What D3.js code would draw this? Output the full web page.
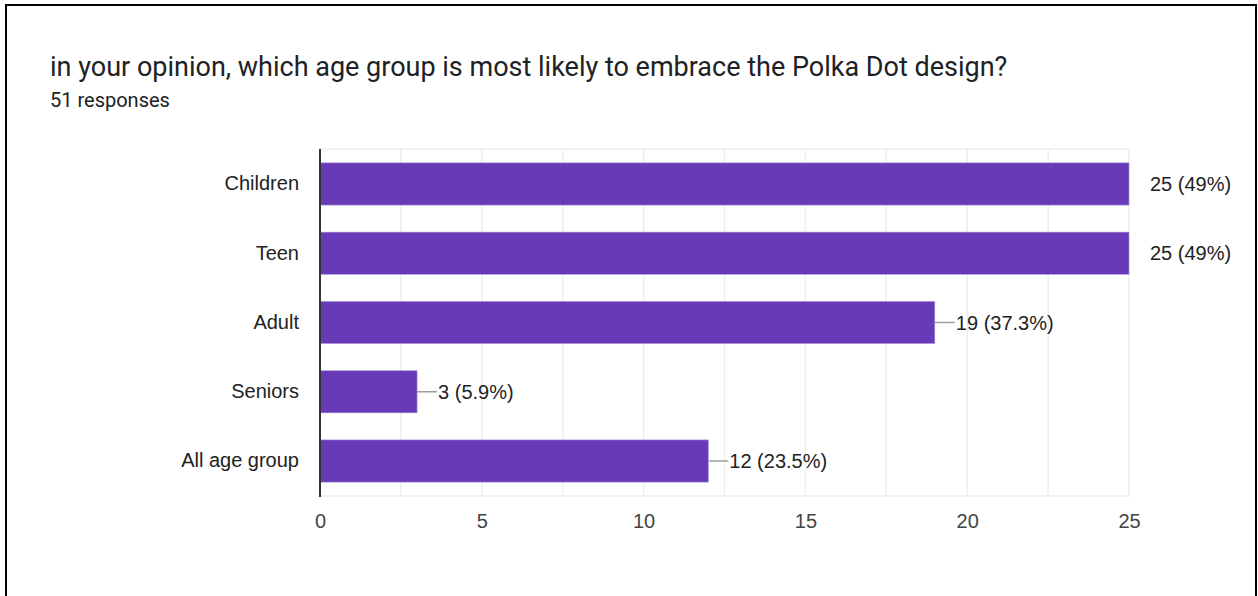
<!DOCTYPE html>
<html>
<head>
<meta charset="utf-8">
<script src="https://cdn.jsdelivr.net/npm/d3@7"></script>
<style>
  body { margin: 0; background: #fff; }
  svg { display: block; font-family: Roboto, Arial, sans-serif; }
</style>
</head>
<body>
<svg id="chart"></svg>
<script>
const width = 1258;
const height = 596;

const categories = ["Children", "Teen", "Adult", "Seniors", "All age group"];
const counts = [25, 25, 19, 3, 12];
const percents = ["49%", "49%", "37.3%", "5.9%", "23.5%"];
const xTicks = [0, 5, 10, 15, 20, 25];
const gridValues = d3.range(0, 25.1, 2.5);

const title = "in your opinion, which age group is most likely to embrace the Polka Dot design?";
const subtitle = "51 responses";

const labelFont = "'Liberation Sans', Arial, sans-serif";
const margin = { left: 320, right: 129, top: 149, bottom: 100 };

const svg = d3.select("#chart")
    .attr("width", width)
    .attr("height", height);

// card frame
svg.append("rect")
    .attr("x", 6).attr("y", 5)
    .attr("width", 1250).attr("height", 620)
    .attr("fill", "none")
    .attr("stroke", "#000")
    .attr("stroke-width", 2);

svg.append("text")
    .attr("x", 50).attr("y", 76)
    .attr("font-size", 27)
    .attr("fill", "#202124")
    .text(title);

svg.append("text")
    .attr("x", 50).attr("y", 107)
    .attr("font-size", 20)
    .attr("fill", "#202124")
    .text(subtitle);

const x = d3.scaleLinear()
    .domain([0, 25])
    .range([margin.left, width - margin.right]);

const y = d3.scaleBand()
    .domain(categories)
    .range([margin.top, 496])
    .paddingInner(0.39)
    .paddingOuter(0.2);

// grid
svg.append("g")
    .selectAll("line")
    .data(gridValues)
    .enter().append("line")
    .attr("x1", d => x(d)).attr("x2", d => x(d))
    .attr("y1", margin.top).attr("y2", 496)
    .attr("stroke", "#eeeeee")
    .attr("stroke-width", 1.5);

svg.append("g")
    .selectAll("line")
    .data([margin.top, 496])
    .enter().append("line")
    .attr("x1", x(0)).attr("x2", x(25))
    .attr("y1", d => d).attr("y2", d => d)
    .attr("stroke", "#eeeeee")
    .attr("stroke-width", 1.5);

// leader lines, clipped to the plot like the original
svg.append("clipPath").attr("id", "plot")
    .append("rect")
    .attr("x", x(0)).attr("y", margin.top)
    .attr("width", x(25) - x(0)).attr("height", 496 - margin.top);

svg.append("g")
    .attr("clip-path", "url(#plot)")
    .selectAll("line")
    .data(counts)
    .enter().append("line")
    .attr("x1", d => x(d)).attr("x2", d => x(d) + 20)
    .attr("y1", (d, i) => y(categories[i]) + y.bandwidth() / 2)
    .attr("y2", (d, i) => y(categories[i]) + y.bandwidth() / 2)
    .attr("stroke", "#9e9e9e")
    .attr("stroke-width", 1.5);

// bars
svg.append("g")
    .selectAll("rect")
    .data(counts)
    .enter().append("rect")
    .attr("x", x(0))
    .attr("y", (d, i) => y(categories[i]))
    .attr("width", d => x(d) - x(0))
    .attr("height", y.bandwidth())
    .attr("fill", "#673ab7")
    .attr("stroke", "#b39ddb")
    .attr("stroke-width", 0.6);

// value labels
svg.append("g")
    .selectAll("text")
    .data(counts)
    .enter().append("text")
    .attr("x", d => x(d) + 21)
    .attr("y", (d, i) => y(categories[i]) + y.bandwidth() / 2)
    .attr("dy", "0.35em")
    .attr("font-size", 20)
    .attr("font-family", labelFont)
    .attr("fill", "#222")
    .text((d, i) => `${d} (${percents[i]})`);

// category axis
const yAxis = svg.append("g")
    .attr("transform", `translate(${x(0)},0)`)
    .call(d3.axisLeft(y).tickSize(0).tickPadding(21));
yAxis.select(".domain").remove();
yAxis.selectAll("text")
    .attr("font-size", 20)
    .attr("font-family", labelFont)
    .attr("fill", "#222");

svg.append("line")
    .attr("x1", x(0)).attr("x2", x(0))
    .attr("y1", margin.top).attr("y2", 497)
    .attr("stroke", "#333")
    .attr("stroke-width", 2);

// value axis
const xAxis = svg.append("g")
    .attr("transform", "translate(0,496)")
    .call(d3.axisBottom(x).tickValues(xTicks).tickSize(0).tickPadding(18));
xAxis.select(".domain").remove();
xAxis.selectAll("text")
    .attr("font-size", 20)
    .attr("font-family", labelFont)
    .attr("fill", "#444");
</script>
</body>
</html>
